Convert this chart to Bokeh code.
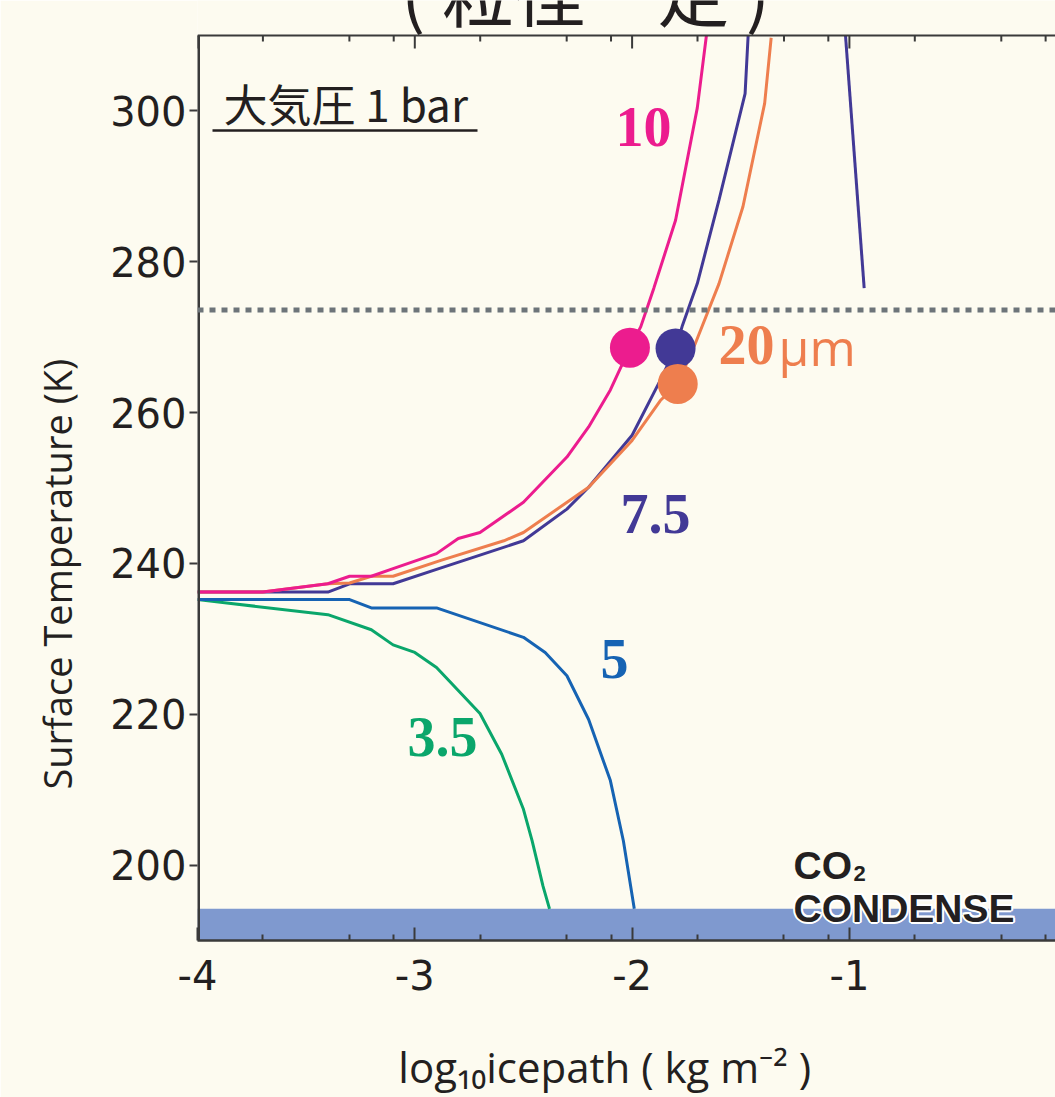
import math
from bokeh.plotting import figure
from bokeh.models import FixedTicker, LinearAxis, Label, Span, BoxAnnotation, Range1d
from bokeh.embed import file_html
from bokeh.resources import INLINE

# ---------------- data ----------------
# x: log10 icepath (kg m^-2), y: surface temperature (K)
x_35 = [-4.0, -3.4, -3.2, -3.1, -3.0, -2.9, -2.7, -2.6, -2.5, -2.46, -2.41, -2.38]
t_35 = [235.2, 233.2, 231.2, 229.2, 228.2, 226.2, 220.1, 214.7, 207.4, 203.2, 197.2, 194.2]

x_5 = [-4.0, -3.3, -3.2, -2.9, -2.5, -2.4, -2.3, -2.2, -2.1, -2.04, -1.99]
t_5 = [235.2, 235.2, 234.1, 234.1, 230.2, 228.2, 225.1, 219.3, 211.2, 203.2, 194.2]

x_75 = [-4.0, -3.7, -3.4, -3.3, -3.1, -2.9, -2.7, -2.5, -2.3, -2.2, -2.0, -1.87,
        -1.8, -1.77, -1.7, -1.6, -1.48, -1.466]
t_75 = [236.2, 236.2, 236.2, 237.3, 237.3, 239.2, 241.1, 243.0, 247.2, 250.1, 257.0, 264.3,
        268.5, 271.4, 277.1, 288.2, 302.3, 310.0]
x_75b = [-1.018, -0.932]
t_75b = [310.0, 276.5]

x_10 = [-4.0, -3.7, -3.4, -3.3, -3.2, -3.1, -2.9, -2.8, -2.7, -2.5, -2.3, -2.2, -2.1,
        -2.01, -1.96, -1.9, -1.8, -1.7, -1.658]
t_10 = [236.2, 236.2, 237.3, 238.3, 238.3, 239.3, 241.3, 243.3, 244.1, 248.1, 254.1, 258.1, 263.0,
        268.6, 271.4, 276.5, 285.5, 300.4, 310.0]

x_20 = [-4.0, -3.7, -3.4, -3.3, -3.2, -3.1, -2.88, -2.59, -2.5, -2.2, -2.0, -1.87,
        -1.79, -1.71, -1.6, -1.49, -1.39, -1.36]
t_20 = [236.2, 236.2, 237.3, 237.4, 238.3, 238.3, 240.4, 243.0, 244.1, 250.1, 256.3, 261.6,
        263.8, 269.1, 277.1, 287.3, 301.0, 309.7]

dot_x = [-2.01, -1.80, -1.79]
dot_t = [268.6, 268.5, 263.8]

freeze_t = 273.6
co2_condense_t = 194.2

x_major = [-4, -3, -2, -1, 0]
x_minor = [-3.699, -3.301, -3.097, -2.699, -2.301, -2.097, -1.699, -1.301, -1.097,
           -0.699, -0.301, -0.097]
y_major = [200, 220, 240, 260, 280, 300]
t_top = 310.0  # top of the temperature axis

# ---------------- styles ----------------
BG = "#FDFBF0"
TXT = "#231F20"
AX = "#3A3A3A"
C_MAG = "#EC1C8E"
C_PUR = "#423996"
C_ORA = "#EE7E4E"
C_BLU = "#1663B3"
C_GRN = "#0AA66B"

W, H = 1055, 1097
ML, MB = 197, 157
FW, FH = W - ML, H - MB
PX_PER_K = 905 / 120.0
X0, X1 = -4.0, -4.0 + FW / 217.3
Y0 = 190.0
Y1 = Y0 + FH / PX_PER_K  # frame reaches the top of the window (title sits there, cut)

p = figure(width=W, height=H, x_range=Range1d(X0, X1), y_range=Range1d(Y0, Y1),
           x_axis_type=None, y_axis_type=None, output_backend="svg", toolbar_location=None,
           title=None,
           min_border_left=ML, min_border_right=0, min_border_top=0, min_border_bottom=MB,
           background_fill_color=BG, border_fill_color=BG, outline_line_color=None)
p.grid.visible = False


def dx(px):
    return X0 + (px - ML) * (X1 - X0) / FW


def dy(py):
    return Y1 - py * (Y1 - Y0) / FH


NB = "\u00a0"
xt = FixedTicker(ticks=x_major, minor_ticks=x_minor)

bottom = LinearAxis(ticker=xt, major_tick_in=13, major_tick_out=0, minor_tick_in=6, minor_tick_out=0,
                    axis_line_width=2.5, axis_line_color=AX, major_tick_line_color=AX,
                    major_tick_line_width=2, minor_tick_line_color=AX, minor_tick_line_width=2,
                    major_label_text_font="DejaVu Sans", major_label_text_font_size="40px",
                    major_label_text_color=TXT, major_label_standoff=19,
                    major_label_overrides={v: str(v) for v in x_major},
                    axis_label="log₁₀icepath ( kg m⁻² )" + NB * 4,
                    axis_label_text_font="Open Sans", axis_label_text_font_size="42px",
                    axis_label_text_font_style="normal", axis_label_text_color=TXT,
                    axis_label_standoff=45)
p.add_layout(bottom, "below")

left = LinearAxis(ticker=FixedTicker(ticks=y_major, minor_ticks=[]), major_tick_in=0, major_tick_out=8,
                  minor_tick_in=0, minor_tick_out=0,
                  axis_line_color=None, major_tick_line_color=AX, major_tick_line_width=2,
                  major_label_text_font="DejaVu Sans", major_label_text_font_size="40px",
                  major_label_text_color=TXT, major_label_standoff=3,
                  axis_label="Surface Temperature (K)" + NB * 21,
                  axis_label_text_font="Open Sans", axis_label_text_font_size="38px",
                  axis_label_text_font_style="normal", axis_label_text_color=TXT,
                  axis_label_standoff=24)
p.add_layout(left, "left")

# CO2 condensation band and freezing line
p.add_layout(BoxAnnotation(top=co2_condense_t, fill_color="#7F99CF", fill_alpha=1.0,
                           line_color=None, level="underlay"))
p.add_layout(Span(location=freeze_t, dimension="width", line_color="#6D7479",
                  line_width=5, line_dash="6 6"))

# curves
for xs, ts, c in [(x_35, t_35, C_GRN), (x_5, t_5, C_BLU), (x_75, t_75, C_PUR),
                  (x_75b, t_75b, C_PUR), (x_20, t_20, C_ORA), (x_10, t_10, C_MAG)]:
    p.line(xs, ts, line_color=c, line_width=3)

p.scatter(dot_x, dot_t, size=40, color=[C_MAG, C_PUR, C_ORA], line_color=None)

# top and left frame lines with inward ticks along the top
p.add_layout(Span(location=t_top, dimension="width", line_color=AX, line_width=2))
p.segment(x0=[X0], y0=[Y0], x1=[X0], y1=[t_top], line_color=AX, line_width=5)
maj_len = 13 / PX_PER_K
min_len = 6 / PX_PER_K
p.segment(x0=x_major, y0=[t_top] * len(x_major), x1=x_major,
          y1=[t_top - maj_len] * len(x_major), line_color=AX, line_width=2)
p.segment(x0=x_minor, y0=[t_top] * len(x_minor), x1=x_minor,
          y1=[t_top - min_len] * len(x_minor), line_color=AX, line_width=2)

K = 0.39  # baseline correction factor (fraction of font size)


def lab(text, px, py, fs, color=TXT, font="Open Sans", style="normal", align="left",
        xo=0, yo=0):
    p.add_layout(Label(x=dx(px), y=dy(py - K * fs), text=text, text_font=font,
                       text_font_size=f"{fs}px", text_color=color, text_font_style=style,
                       text_align=align, text_baseline="alphabetic", x_offset=xo, y_offset=yo))


SER = "Liberation Serif"
lab("10", 615, 148, 56, C_MAG, SER, "bold")
lab("7.5", 620, 535, 56, C_PUR, SER, "bold")
lab("5", 600, 680, 56, C_BLU, SER, "bold")
lab("3.5", 407, 758, 56, C_GRN, SER, "bold")
lab("20", 718, 366, 56, C_ORA, SER, "bold")
lab("μm", 778, 366, 50, C_ORA, "Open Sans")

# pressure note
lab("大気圧 1 bar", 223, 120, 44, TXT, "Noto Sans CJK JP")
p.segment(x0=[dx(212)], y0=[dy(130)], x1=[dx(477)], y1=[dy(130)], line_color=TXT, line_width=2.5)

# CO2 CONDENSE
SANS_B = "Liberation Sans"
lab("CO", 793, 880, 39, TXT, SANS_B, "bold")
lab("2", 853, 882, 22, TXT, SANS_B, "bold")
for ox, oy in [(-2, 0), (2, 0), (0, -2), (0, 2), (-1.5, -1.5), (1.5, 1.5), (-1.5, 1.5), (1.5, -1.5)]:
    lab("CONDENSE", 793, 923, 39, "white", SANS_B, "bold", xo=ox, yo=oy)
lab("CONDENSE", 793, 923, 39, TXT, SANS_B, "bold")

# title (cut at the top of the window, as in the reference)
lab("( 粒径一定 )", 585, 17, 72, TXT, "Noto Sans CJK JP", align="center")

open("out.html", "w").write(file_html(p, INLINE))
